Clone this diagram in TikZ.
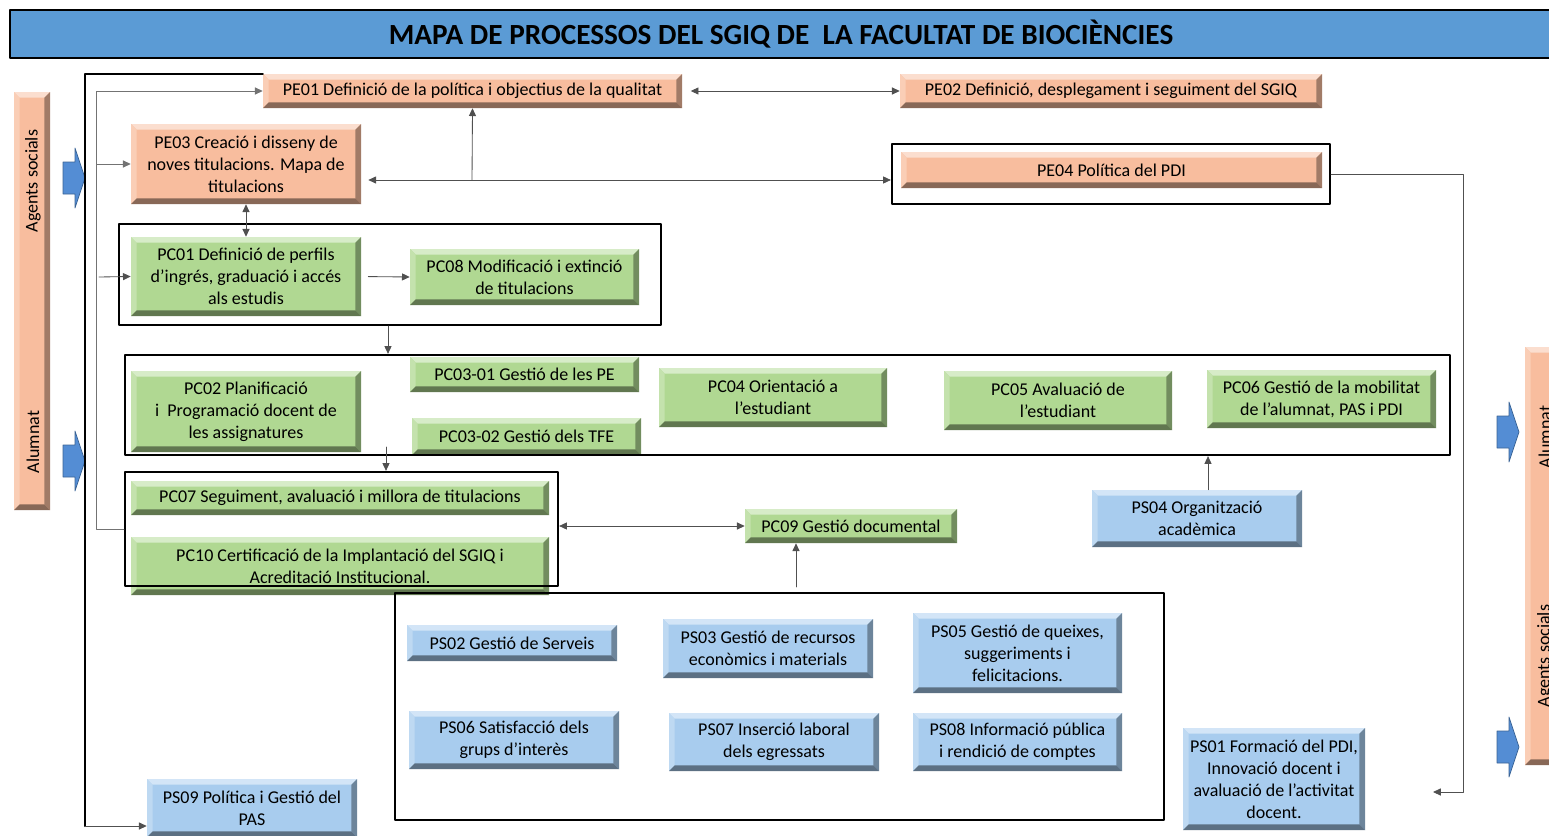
\documentclass[tikz,border=0pt]{standalone}
\usepackage{fontspec}
\setmainfont{Carlito}
\usetikzlibrary{arrows.meta}
\definecolor{pecol}{RGB}{248,189,158}
\definecolor{pccol}{RGB}{176,216,146}
\definecolor{pscol}{RGB}{168,204,238}
\definecolor{titlecol}{RGB}{91,155,213}
\definecolor{arrcol}{RGB}{84,141,212}
\definecolor{linecol}{RGB}{80,80,80}
\tikzset{
  bevel/.style={path picture={
    \path (path picture bounding box.south west) coordinate (bsw)
          (path picture bounding box.south east) coordinate (bse)
          (path picture bounding box.north east) coordinate (bne)
          (path picture bounding box.north west) coordinate (bnw);
    \fill[#1!50!white] (bnw) -- (bne) -- ([shift={(-4pt,-4pt)}]bne) -- ([shift={(4pt,-4pt)}]bnw) -- cycle;
    \fill[#1!75!white] (bnw) -- ([shift={(4pt,-4pt)}]bnw) -- ([shift={(4pt,4pt)}]bsw) -- (bsw) -- cycle;
    \fill[#1!65!black] (bne) -- (bse) -- ([shift={(-4pt,4pt)}]bse) -- ([shift={(-4pt,-4pt)}]bne) -- cycle;
    \fill[#1!55!black] (bsw) -- (bse) -- ([shift={(-4pt,4pt)}]bse) -- ([shift={(4pt,4pt)}]bsw) -- cycle;
  }},
  sz/.style 2 args={minimum width=#1*0.025cm, minimum height=#2*0.025cm},
  box/.style={inner sep=0pt, align=center, font=\fontsize{12.8}{15.6}\selectfont},
  pe/.style={box, fill=pecol, bevel=pecol},
  pc/.style={box, fill=pccol, bevel=pccol},
  ps/.style={box, fill=pscol, bevel=pscol},
  frame/.style={draw=black, line width=1.6pt},
  grp/.style={frame, inner sep=0pt},
  conn/.style={draw=linecol, line width=0.6pt},
  blockarr/.style={fill=arrcol, draw=arrcol!70!black, line width=0.5pt},
  sidetext/.style={rotate=90, font=\fontsize{12.8}{15}\selectfont}
}
\begin{document}
\begin{tikzpicture}[line cap=round,line join=round,>={Triangle[length=5.5pt,width=5pt]},x=0.025cm,y=-0.025cm]
\useasboundingbox (0,0) rectangle (1549,835);
\clip (0,0) rectangle (1549,835);

\node[frame, fill=titlecol, inner sep=0pt, sz={1542}{48}, font=\fontsize{20.8}{24}\selectfont\bfseries] (title) at (781,34) {MAPA DE PROCESSOS DEL SGIQ DE \ LA FACULTAT DE BIOCIÈNCIES};

\node[pe, sz={36}{418}] (lbar) at (32,301) {};
\node[sidetext] (lagents) at (33,181) {Agents socials};
\node[sidetext] (lalumnat) at (33,442) {Alumnat};
\node[pe, sz={36}{418}] (rbar) at (1543,556) {};
\node[sidetext] (ralumnat) at (1545,437) {Alumnat};
\node[sidetext] (ragents) at (1545,656) {Agents socials};

\foreach \ax/\ay in {63/178,63/461,1497/432,1497/747}
  \draw[blockarr] (\ax,\ay-16) -- ++(12,0) -- ++(0,-14) -- ++(10,30) -- ++(-10,30) -- ++(0,-14) -- ++(-12,0) -- cycle;

\node[pe, sz={419}{34}] (pe01) at (472.5,91) {PE01 Definició de la política i objectius de la qualitat};
\node[pe, sz={422}{34}] (pe02) at (1111,91) {PE02 Definició, desplegament i seguiment del SGIQ};
\node[pe, sz={230}{80}] (pe03) at (246,164) {PE03 Creació i disseny de\\noves titulacions. Mapa de\\titulacions};
\node[pe, sz={421}{36}] (pe04) at (1111.5,170) {PE04 Política del PDI};

\node[pc, sz={230}{79}] (pc01) at (246,276.5) {PC01 Definició de perfils\\d’ingrés, graduació i accés\\als estudis};
\node[pc, sz={229}{56}] (pc08) at (524.5,277) {PC08 Modificació i extinció\\de titulacions};
\node[pc, sz={230}{81}] (pc02) at (246,411.5) {PC02 Planificació\\i~ Programació docent de\\les assignatures};
\node[pc, sz={229}{35}] (pc0301) at (524.5,374.5) {PC03-01 Gestió de les PE};
\node[pc, sz={229}{37}] (pc0302) at (526.5,436.5) {PC03-02 Gestió dels TFE};
\node[pc, sz={228}{59}] (pc04) at (773,397.5) {PC04 Orientació a\\l’estudiant};
\node[pc, sz={228}{59}] (pc05) at (1058,400.5) {PC05 Avaluació de\\l’estudiant};
\node[pc, sz={229}{58}] (pc06) at (1321.5,399) {PC06 Gestió de la mobilitat\\de l’alumnat, PAS i PDI};
\node[pc, sz={418}{34}] (pc07) at (340,498) {PC07 Seguiment, avaluació i millora de titulacions};
\node[pc, sz={418}{58}] (pc10) at (340,566) {PC10 Certificació de la Implantació del SGIQ i\\Acreditació Institucional.};
\node[pc, sz={212}{34}] (pc09) at (851,526) {PC09 Gestió documental};

\node[ps, sz={210}{57}] (ps04) at (1197,518.5) {PS04 Organització\\acadèmica};
\node[ps, sz={210}{36}] (ps02) at (512,643) {PS02 Gestió de Serveis};
\node[ps, sz={210}{59}] (ps03) at (768,648.5) {PS03 Gestió de recursos\\econòmics i materials};
\node[ps, sz={209}{80}] (ps05) at (1017.5,653) {PS05 Gestió de queixes,\\suggeriments i\\felicitacions.};
\node[ps, sz={210}{58}] (ps06) at (514,740) {PS06 Satisfacció dels\\grups d’interès};
\node[ps, sz={210}{58}] (ps07) at (774,742) {PS07 Inserció laboral\\dels egressats};
\node[ps, sz={209}{58}] (ps08) at (1017.5,742) {PS08 Informació pública\\i rendició de comptes};
\node[ps, sz={210}{58}] (ps09) at (252,808) {PS09 Política i Gestió del\\PAS};
\node[ps, sz={182}{102}] (ps01) at (1274,779) {PS01 Formació del PDI,\\Innovació docent i\\avaluació de l’activitat\\docent.};

\node[grp, sz={438}{60}] (grp4) at (1111,174) {};
\node[grp, sz={542}{101}] (grp1) at (390,274.5) {};
\node[grp, sz={1325}{100}] (grp2) at (787.5,405) {};
\node[grp, sz={433}{114}] (grp3) at (341.5,529) {};
\node[grp, sz={769}{227}] (psgrp) at (779.5,706.5) {};

\coordinate (lb) at (85,826);
\coordinate (fork) at (96,164);
\coordinate (pcin) at (99,277);
\coordinate (tj) at (472,180);
\coordinate (rc) at (1463,792);
\coordinate (ps01in) at (1433,792);

\draw[frame] (pe01.north west) -| (lb);
\draw[conn,->] (lb) -- (lb -| ps09.west);
\draw[conn,draw=black!55,->] (grp3.west) -| (fork) -- (pe03.west);
\draw[conn,draw=black!55,->] (fork) |- (pe01.west);
\draw[conn,->] (pcin) -- (pc01.west);
\draw[conn,->,shorten <=5pt] (pc01.east) -- (pc08.west);
\draw[conn,<->] (pe03.south) -- (pc01.north);
\draw[conn,<->,shorten <=6pt] (pe01.east) -- (pe02.west);
\draw[conn,<->,shorten <=5pt] (pe03.east |- tj) -- (grp4.west |- tj);
\draw[conn,->] (tj) -- (pe01.south);
\draw[conn,->] (grp4.east) -| (rc) -- (ps01in);
\draw[conn,->] (grp1.south -| 388,0) -- (grp2.north -| 388,0);
\draw[conn,->] (386,447) -- (grp3.north -| 386,0);
\draw[conn,<->] (grp3.east |- pc09.west) -- (pc09.west);
\draw[conn,->] (796,587) -- (pc09.south -| 796,0);
\draw[conn,->] (ps04.north -| 1208,0) -- (grp2.south -| 1208,0);
\end{tikzpicture}
\end{document}
